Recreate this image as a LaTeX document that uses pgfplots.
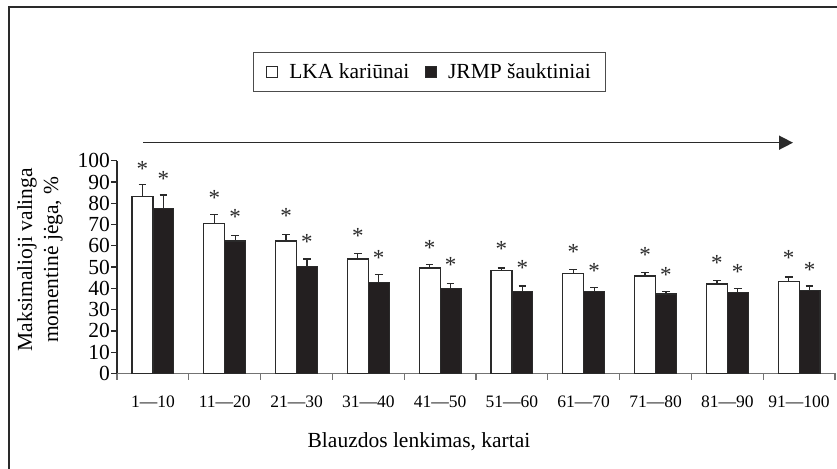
\documentclass[border=0pt]{standalone}
\usepackage{fontspec}
\setmainfont{Liberation Serif}
\usepackage{pgfplots}
\usepackage{pgfplotstable}
\pgfplotsset{compat=1.18}
\usetikzlibrary{arrows.meta}
\definecolor{barblack}{HTML}{231F20}
\definecolor{edge}{HTML}{2A2A2A}
\pgfplotstableread{
xa      xb     lka   lkae  jr    jre   alka  ajr
-0.145  0.145  83.1  5.8   77.6  6.3   98.4  93.6
0.855   1.145  70.6  4.2   62.3  2.5   84.7  75.6
1.855   2.145  62.3  3.0   50.2  3.6   76.0  63.8
2.855   3.145  53.8  2.5   42.7  3.7   66.6  56.5
3.855   4.145  49.6  1.5   40.0  2.2   60.9  53.0
4.855   5.145  48.5  1.1   38.4  2.7   60.4  51.5
5.855   6.145  46.9  2.1   38.4  2.2   59.1  50.5
6.855   7.145  45.8  1.6   37.4  1.0   58.0  48.6
7.855   8.145  42.1  1.5   38.0  2.0   54.1  49.7
8.855   9.145  43.1  2.2   39.1  2.0   56.5  51.0
}\datatable
\begin{document}
\begin{tikzpicture}[x=1pt,y=1pt]
\useasboundingbox (0,0) rectangle (837,468);
\draw[line width=1.3pt, edge] (9,-20) -- (9,461) -- (860,461);
\draw[line width=1.5pt, edge, -{Triangle[length=14pt,width=14pt]}] (143,325.3) -- (793,325.3);
\begin{axis}[
  at={(117pt,94.5pt)}, anchor=south west,
  scale only axis, width=718pt, height=212.8pt,
  xmin=-0.5, xmax=9.5, ymin=0, ymax=100,
  clip=false,
  axis x line*=bottom, axis y line*=left,
  x axis line style={draw=black!55, line width=1.2pt},
  y axis line style={draw=edge, line width=1.2pt},
  tick align=outside,
  major tick length=6pt, minor tick length=6pt,
  xtick={0,...,9},
  xticklabels={1---10,11---20,21---30,31---40,41---50,51---60,61---70,71---80,81---90,91---100},
  xtick style={draw=none},
  minor xtick={-0.5,0.5,...,9.5},
  minor x tick style={draw=black!55, line width=1.2pt},
  ytick={0,10,...,100},
  ytick style={draw=edge, line width=1.2pt},
  /pgf/number format/assume math mode=true,
  xticklabel style={font=\fontsize{17.5}{18}\selectfont, anchor=base, yshift=-28pt},
  yticklabel style={font=\fontsize{21.5}{22}\selectfont, inner sep=1pt},
  xlabel={Blauzdos lenkimas, kartai},
  xlabel style={font=\fontsize{21.5}{24}\selectfont, at={(axis description cs:0.4206,-0.3454)}, anchor=base},
  ylabel={Maksimalioji valinga\\momentinė jėga, \%},
  ylabel style={font=\fontsize{21.5}{26}\selectfont, align=center, at={(axis description cs:-0.1072,0.535)}, anchor=center},
  legend columns=2,
  legend image code/.code={\draw[#1, line width=0.8pt] (0pt,-5.5pt) rectangle (11pt,5.5pt);},
  legend style={at={(axis description cs:0.1894,1.5108)}, anchor=north west,
    draw=black!70, line width=1pt, font=\fontsize{21.5}{24}\selectfont,
    inner xsep=13pt, inner ysep=9.5pt,
    /tikz/every odd column/.append style={column sep=9pt},
    /tikz/every even column/.append style={column sep=14pt}},
]
\addplot[ybar, bar width=0.29, bar shift=0, fill=white, draw=edge, line width=1.2pt,
  error bars/.cd, y dir=plus, y explicit,
  error bar style={line width=1.2pt, edge},
  error mark options={rotate=90, edge, line width=1.2pt, mark size=3.8pt}]
  table[x=xa, y=lka, y error=lkae] {\datatable};
\addlegendentry{LKA kariūnai}
\addplot[ybar, bar width=0.29, bar shift=0, fill=barblack, draw=edge, line width=1.2pt,
  error bars/.cd, y dir=plus, y explicit,
  error bar style={line width=1.2pt, edge},
  error mark options={rotate=90, edge, line width=1.2pt, mark size=3.8pt}]
  table[x=xb, y=jr, y error=jre] {\datatable};
\addlegendentry{JRMP šauktiniai\hspace{10pt}}
\addplot[forget plot, only marks, mark=text, text mark={*}, text mark as node=true,
  text mark style={font=\fontsize{23}{23}\selectfont, yshift=-4.5pt, inner sep=0pt, text=edge}]
  table[x=xa, y=alka] {\datatable};
\addplot[forget plot, only marks, mark=text, text mark={*}, text mark as node=true,
  text mark style={font=\fontsize{23}{23}\selectfont, yshift=-4.5pt, inner sep=0pt, text=edge}]
  table[x=xb, y=ajr] {\datatable};
\end{axis}
\end{tikzpicture}
\end{document}
